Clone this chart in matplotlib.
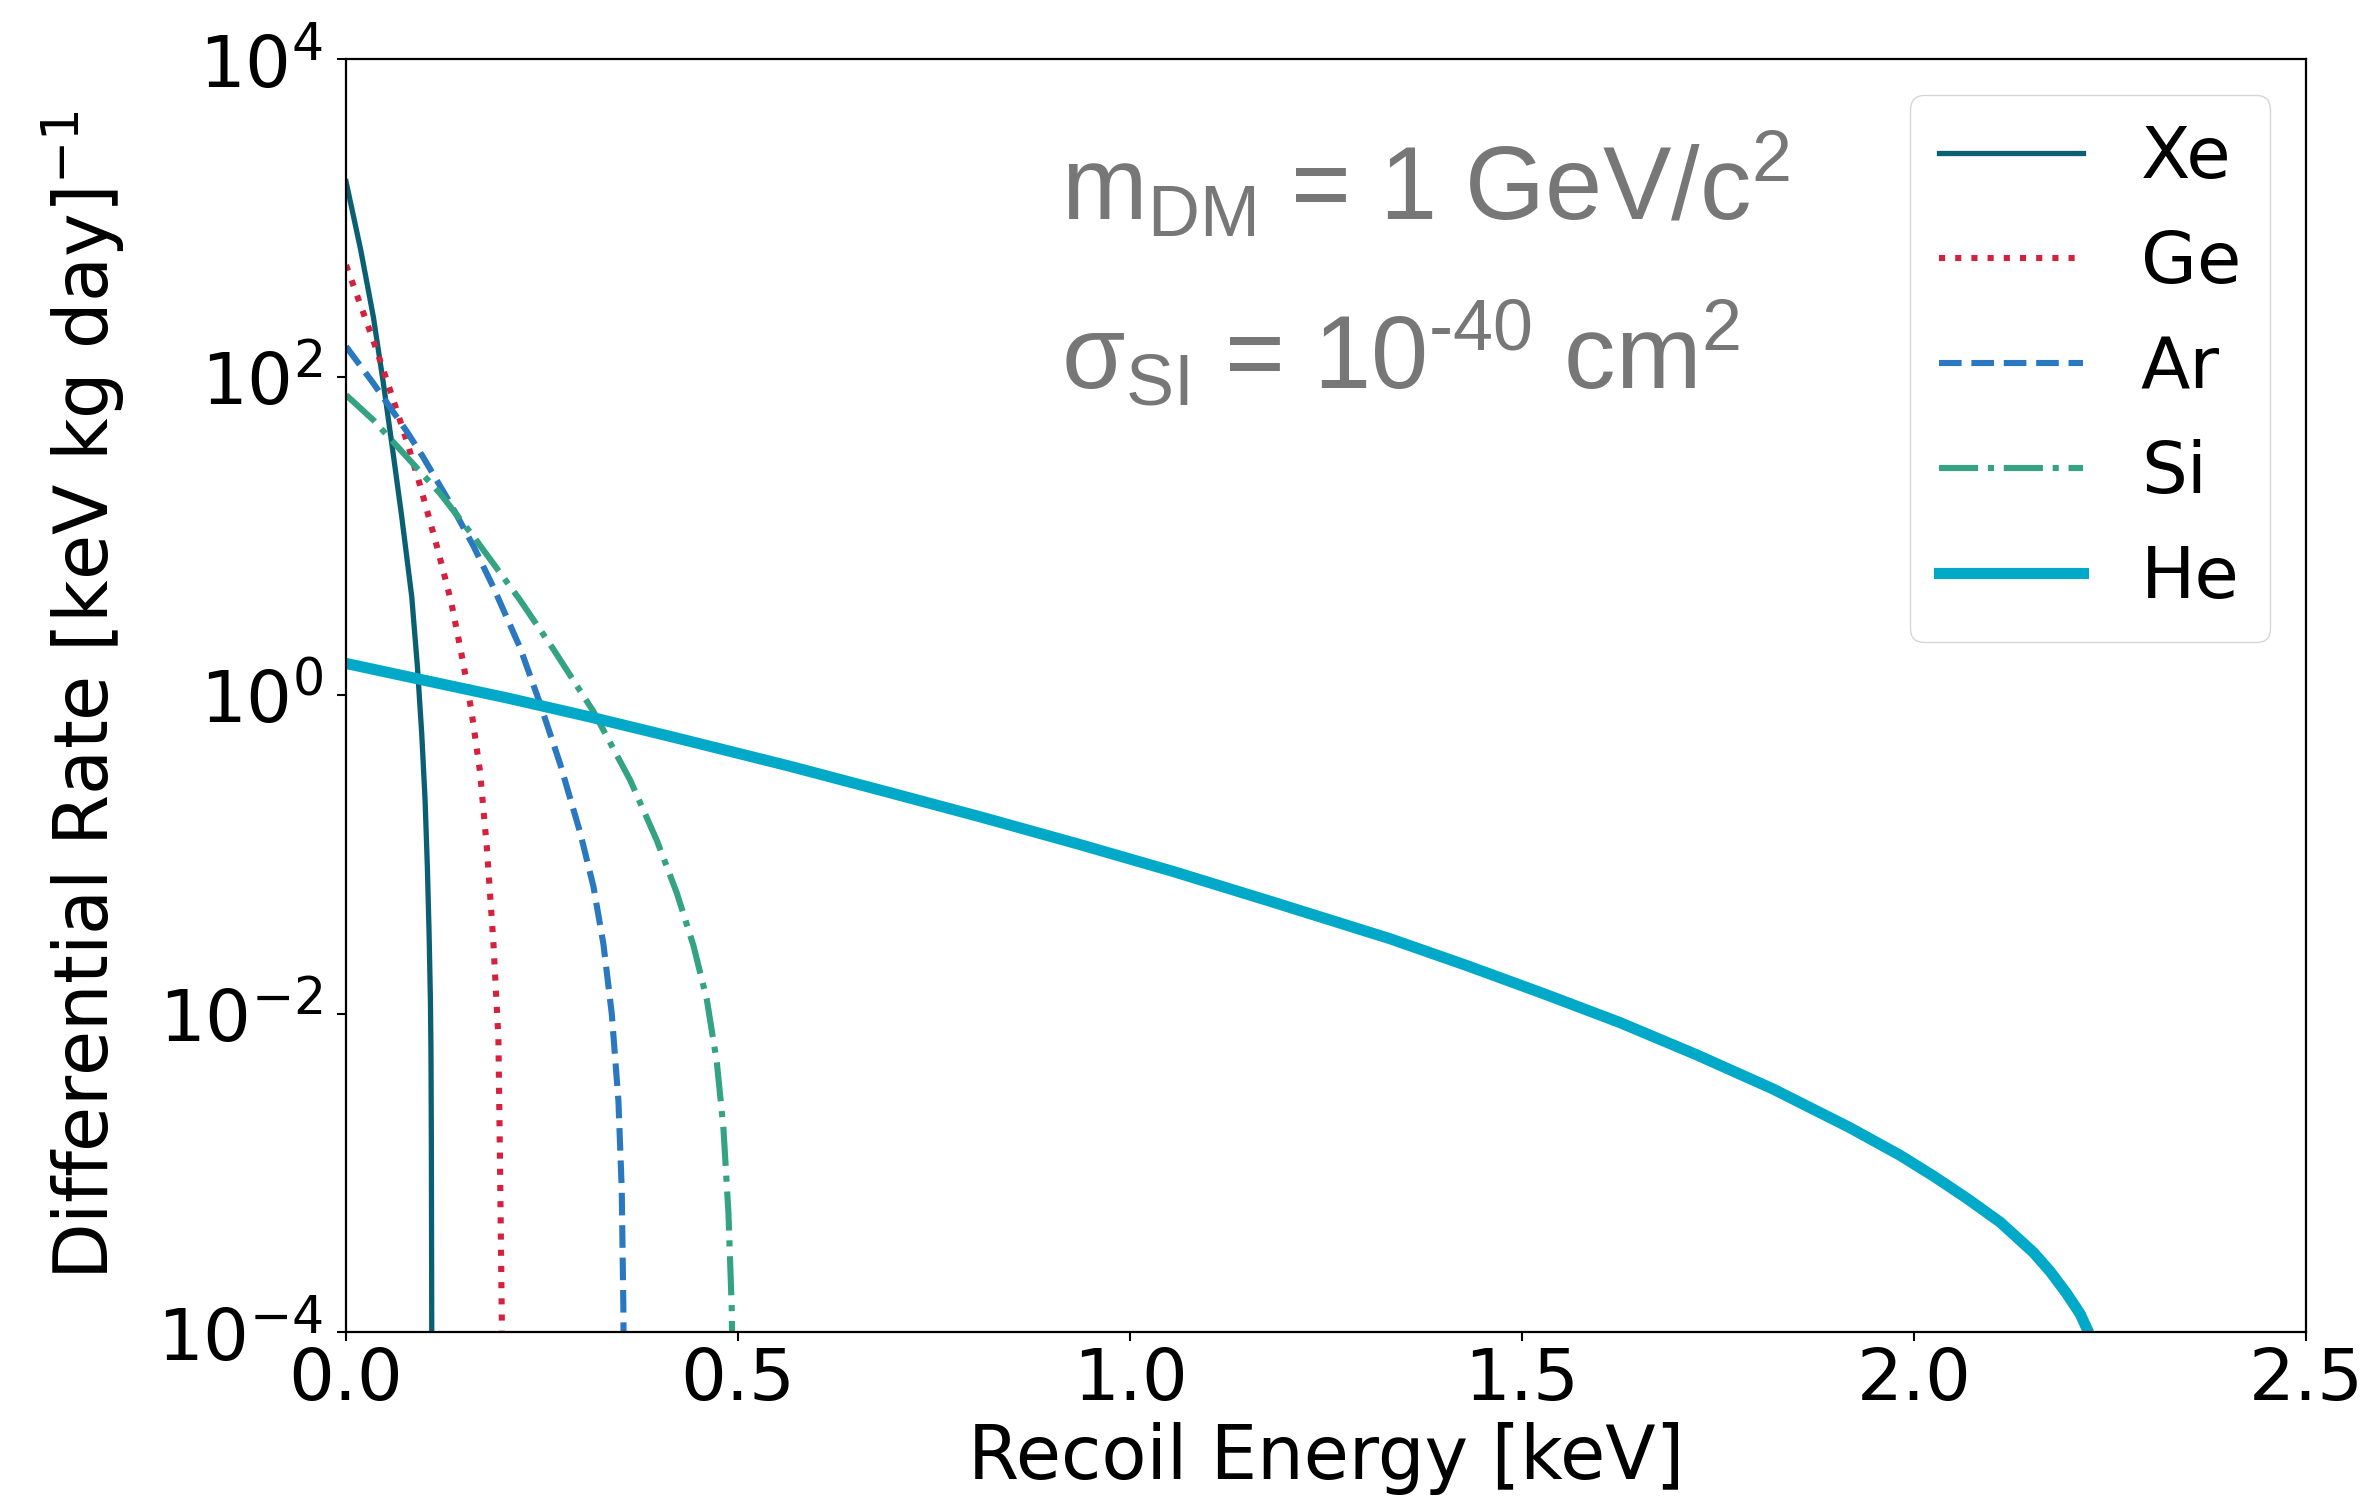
import matplotlib
matplotlib.use('Agg')
import matplotlib.pyplot as plt

plt.rcParams['mathtext.fontset'] = 'dejavusans'
plt.rcParams['mathtext.rm'] = 'Liberation Sans'
plt.rcParams['mathtext.it'] = 'Liberation Sans'

# recoil energy [keV] and differential rate [1/(keV kg day)]
xe_E = [0.0, 0.0187, 0.0348, 0.0476, 0.0595, 0.0710, 0.0838, 0.0910, 0.0965, 0.1008,
        0.1037, 0.1059, 0.1076, 0.1083, 0.1088, 0.1091, 0.1093, 0.1094]
xe_R = [1694, 631, 240, 91.6, 34.8, 13.3, 4.17, 1.52, 0.578, 0.220,
        8.39e-2, 3.20e-2, 1.22e-2, 5.90e-3, 1.58e-3, 3.16e-4, 1.0e-4, 5.0e-5]

ge_E = [0.0, 0.0136, 0.0348, 0.0561, 0.0774, 0.0944, 0.1157, 0.1284, 0.1348, 0.1497,
        0.1603, 0.1709, 0.1795, 0.1879, 0.1943, 0.1964, 0.1986, 0.1993]
ge_R = [507, 331, 170, 83.2, 39.8, 20.9, 8.71, 5.01, 3.72, 1.58,
        0.776, 0.331, 0.112, 2.82e-2, 7.08e-3, 1.12e-3, 1.26e-4, 5.0e-5]

ar_E = [0.0, 0.0348, 0.0774, 0.0986, 0.1327, 0.1624, 0.1879, 0.2219, 0.2474, 0.2730,
        0.2985, 0.3155, 0.3282, 0.3389, 0.3474, 0.3516, 0.3537, 0.3543]
ar_R = [156, 91.6, 45.7, 31.3, 16.2, 8.71, 4.79, 2.00, 0.891, 0.372,
        0.138, 6.31e-2, 2.75e-2, 1.0e-2, 2.82e-3, 7.94e-4, 1.41e-4, 5.0e-5]

si_E = [0.0, 0.0348, 0.0774, 0.1199, 0.1624, 0.2219, 0.2645, 0.3155, 0.3622, 0.3963,
        0.4218, 0.4430, 0.4601, 0.4728, 0.4813, 0.4877, 0.4919, 0.4930]
si_R = [77.3, 53.8, 31.6, 18.6, 10.0, 3.98, 1.95, 0.794, 0.295, 0.123,
        5.75e-2, 2.69e-2, 1.23e-2, 5.01e-3, 1.91e-3, 5.62e-4, 1.41e-4, 5.0e-5]

he_E = [0.0, 0.0986, 0.205, 0.3112, 0.4175, 0.5663, 0.6884, 0.8103, 0.9324, 1.0544,
        1.1765, 1.3316, 1.4292, 1.5269, 1.6245, 1.7222, 1.8198, 1.9174, 1.982, 2.0246,
        2.0672, 2.1097, 2.1522, 2.1735, 2.1947, 2.2117, 2.2223, 2.2260]
he_R = [1.59, 1.25, 0.966, 0.733, 0.547, 0.359, 0.249, 0.172, 0.117, 7.85e-2,
        5.13e-2, 2.96e-2, 2.01e-2, 1.34e-2, 8.81e-3, 5.53e-3, 3.37e-3, 1.93e-3, 1.29e-3, 9.55e-4,
        6.92e-4, 4.90e-4, 3.16e-4, 2.40e-4, 1.74e-4, 1.30e-4, 1.0e-4, 5.0e-5]

fig = plt.figure(figsize=(23.67, 15.01), dpi=100)
ax = fig.add_axes([0.1462, 0.1126, 0.8281, 0.8481])

ax.plot(xe_E, xe_R, color='#0b5f73', lw=3.8, ls='-', label='Xe')
ax.plot(ge_E, ge_R, color='#d4213d', lw=4.4, ls=':', label='Ge')
ax.plot(ar_E, ar_R, color='#2a78c0', lw=4.4, ls='--', label='Ar')
ax.plot(si_E, si_R, color='#33a383', lw=4.4, ls='-.', label='Si')
ax.plot(he_E, he_R, color='#00a9c7', lw=8, ls='-', label='He')

ax.set_yscale('log')
ax.set_xlim(0, 2.5)
ax.set_ylim(1e-4, 1e4)
ax.set_yticks([1e-4, 1e-2, 1e0, 1e2, 1e4])
ax.minorticks_off()
ax.set_xticks([0.0, 0.5, 1.0, 1.5, 2.0, 2.5])

ax.tick_params(labelsize=52, length=6.5, width=1.5)
ax.tick_params(axis='y', pad=10)
for s in ax.spines.values():
    s.set_linewidth(1.6)

ax.set_xlabel('Recoil Energy [keV]', fontsize=53)
ax.set_ylabel(r'Differential Rate [keV kg day]$^{-1}$', fontsize=53)
ax.xaxis.set_label_coords(0.5, -0.071)
ax.yaxis.set_label_coords(-0.112, 0.5)

ax.legend(loc='upper right', fontsize=52, handlelength=2.0, borderaxespad=0.5)

txt = dict(transform=ax.transAxes, color='#777777', fontsize=74, family='Liberation Sans',
           math_fontfamily='custom', va='baseline', ha='left')
ax.text(0.365, 0.8735, r'm$_{\mathrm{DM}}$ = 1 GeV/c$^{2}$', **txt)
ax.text(0.365, 0.741, r'σ$_{\mathrm{SI}}$ = 10$^{\mathrm{‐40}}$ cm$^{2}$', **txt)

fig.savefig('out.png', dpi=100)
